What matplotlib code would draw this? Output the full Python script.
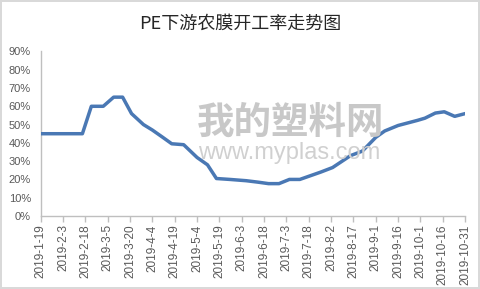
import matplotlib
matplotlib.use("Agg")
import matplotlib.pyplot as plt
import matplotlib.dates as mdates
from matplotlib.ticker import FuncFormatter, MultipleLocator
import datetime as dt

plt.rcParams['font.family'] = ['Liberation Sans', 'Noto Sans CJK SC', 'DejaVu Sans']

title = "PE下游农膜开工率走势图"

dates = ["2019-1-19", "2019-2-16", "2019-2-22", "2019-3-2", "2019-3-9", "2019-3-15",
         "2019-3-21", "2019-3-29", "2019-4-4", "2019-4-11", "2019-4-17", "2019-4-25",
         "2019-5-4", "2019-5-11", "2019-5-17", "2019-5-26", "2019-6-6", "2019-6-14",
         "2019-6-21", "2019-6-28", "2019-7-5", "2019-7-12", "2019-7-26", "2019-8-3",
         "2019-8-15", "2019-8-23", "2019-9-1", "2019-9-7", "2019-9-16", "2019-9-29",
         "2019-10-4", "2019-10-11", "2019-10-17", "2019-10-24", "2019-10-31"]
rates = [45, 45, 60, 60, 65, 65,
         56, 50, 47, 43, 39.5, 39,
         32, 28, 20.5, 20, 19.3, 18.5,
         17.7, 17.7, 20, 20, 24, 26.5,
         33, 35.5, 43, 46.5, 49.5, 52.3,
         53.5, 56.3, 57, 54.5, 56]

tick_labels = ["2019-1-19", "2019-2-3", "2019-2-18", "2019-3-5", "2019-3-20", "2019-4-4",
               "2019-4-19", "2019-5-4", "2019-5-19", "2019-6-3", "2019-6-18", "2019-7-3",
               "2019-7-18", "2019-8-2", "2019-8-17", "2019-9-1", "2019-9-16", "2019-10-1",
               "2019-10-16", "2019-10-31"]

def parse(s):
    y, m, d = map(int, s.split("-"))
    return dt.datetime(y, m, d)

x = [parse(s) for s in dates]
xt = [parse(s) for s in tick_labels]

fig = plt.figure(figsize=(4.8, 2.89), dpi=100)
fig.patch.set_facecolor("white")
fig.patch.set_edgecolor("#D9D9D9")
fig.patch.set_linewidth(1.5)

ax = fig.add_axes([0.0848, 0.2526, 0.969 - 0.0848, 0.822 - 0.2526])

# watermark
fig.text(0.605, 0.578, "我的塑料网", fontsize=27, fontweight='bold', color="#C8C8C8",
         ha='center', va='center', family=['Noto Sans CJK SC'], zorder=0)
fig.text(0.602, 0.47, "www.myplas.com", fontsize=17, color="#D0D0D0",
         ha='center', va='center', family=['Liberation Sans'], zorder=0)

ax.plot(mdates.date2num(x), [r / 100 for r in rates], color="#4A78B4", linewidth=2.5,
        solid_joinstyle='round', solid_capstyle='round', zorder=3)

ax.set_xlim(mdates.date2num(xt[0]), mdates.date2num(xt[-1]))
ax.set_ylim(0, 0.9)
ax.yaxis.set_major_locator(MultipleLocator(0.1))
ax.yaxis.set_major_formatter(FuncFormatter(lambda v, p: f"{v*100:.0f}%"))
ax.set_xticks(mdates.date2num(xt))
ax.set_xticklabels(tick_labels, rotation=90)

ax.patch.set_alpha(0)
for s in ['top', 'right']:
    ax.spines[s].set_visible(False)
for s in ['left', 'bottom']:
    ax.spines[s].set_color("#BFBFBF")
    ax.spines[s].set_linewidth(1.0)

ax.tick_params(axis='y', length=0, pad=7, labelsize=8, labelcolor="#595959")
ax.tick_params(axis='x', length=4, width=1, color="#BFBFBF", pad=2, labelsize=8.5,
               labelcolor="#595959")

fig.text(0.5, 0.917, title, fontsize=13, color="#262626", ha='center', va='center',
         family=['Noto Sans CJK SC', 'DejaVu Sans'])

fig.savefig("out.png", dpi=100, facecolor=fig.get_facecolor(), edgecolor=fig.get_edgecolor())
